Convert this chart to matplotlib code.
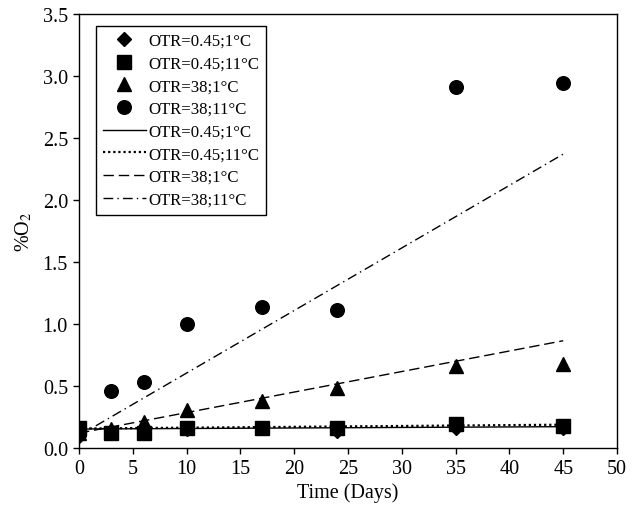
import matplotlib
matplotlib.use("Agg")
import matplotlib.pyplot as plt
from matplotlib.lines import Line2D

plt.rcParams['font.family'] = ['Liberation Serif', 'DejaVu Serif']
plt.rcParams['mathtext.fontset'] = 'stix'

# Data
days = [0, 3, 6, 10, 17, 24, 35, 45]
otr045_1 = [0.10, 0.13, 0.13, 0.15, 0.16, 0.14, 0.16, 0.16]
otr045_11 = [0.16, 0.12, 0.12, 0.16, 0.16, 0.16, 0.19, 0.18]
otr38_1 = [0.12, 0.15, 0.21, 0.31, 0.38, 0.48, 0.66, 0.68]
days_38_11 = [3, 6, 10, 17, 24, 35, 45]
otr38_11 = [0.46, 0.53, 1.00, 1.14, 1.11, 2.91, 2.94]

# Fitted lines (values at x=0 and x=45)
fit_x = [0, 45]
fit_045_1 = [0.153, 0.172]
fit_045_11 = [0.157, 0.188]
fit_38_1 = [0.12, 0.865]
fit_38_11 = [0.10, 2.37]

labels = ['OTR=0.45;1°C', 'OTR=0.45;11°C', 'OTR=38;1°C', 'OTR=38;11°C']

fig = plt.figure(figsize=(6.43, 5.10), dpi=100)
ax = fig.add_axes([79/643, 1-449/510, (617-79)/643, (449-15)/510])

ms = 9.5
dash = (0, (7.5, 3.5))
dashdot = (0, (7, 3, 1, 3))
dotted = (0, (1.0, 1.3))
ax.plot(fit_x, fit_045_1, color='black', lw=1.0, linestyle='-', zorder=2)
ax.plot(fit_x, fit_045_11, color='black', lw=1.6, linestyle=dotted, zorder=2)
ax.plot(fit_x, fit_38_1, color='black', lw=1.0, linestyle=dash, zorder=2)
ax.plot(fit_x, fit_38_11, color='black', lw=1.0, linestyle=dashdot, zorder=2)

ax.plot(days, otr045_1, linestyle='none', marker='D', ms=ms*0.8, color='black', zorder=3)
ax.plot(days, otr045_11, linestyle='none', marker='s', ms=ms, color='black', zorder=3)
ax.plot(days, otr38_1, linestyle='none', marker='^', ms=ms, color='black', zorder=3)
ax.plot(days_38_11, otr38_11, linestyle='none', marker='o', ms=ms+0.3, color='black', zorder=3)

ax.set_xlim(0, 50)
ax.set_ylim(0, 3.5)
ax.set_xticks(range(0, 51, 5))
ax.set_yticks([0, 0.5, 1.0, 1.5, 2.0, 2.5, 3.0, 3.5])
ax.set_yticklabels(['0.0', '0.5', '1.0', '1.5', '2.0', '2.5', '3.0', '3.5'])
ax.tick_params(axis='both', direction='out', length=4, width=1, labelsize=14.5,
               top=False, right=False, pad=4)
for s in ax.spines.values():
    s.set_linewidth(1.0)
ax.set_xlabel('Time (Days)', fontsize=14.5, labelpad=3)
ax.set_ylabel('%O$_2$', fontsize=14.5, labelpad=6)

handles = [
    Line2D([], [], linestyle='none', marker='D', ms=ms*0.8, color='black'),
    Line2D([], [], linestyle='none', marker='s', ms=ms, color='black'),
    Line2D([], [], linestyle='none', marker='^', ms=ms, color='black'),
    Line2D([], [], linestyle='none', marker='o', ms=ms+0.3, color='black'),
    Line2D([], [], color='black', lw=1.0, linestyle='-'),
    Line2D([], [], color='black', lw=1.6, linestyle=dotted),
    Line2D([], [], color='black', lw=1.0, linestyle=dash),
    Line2D([], [], color='black', lw=1.0, linestyle=dashdot),
]
leg = ax.legend(handles, labels + labels, loc='upper left',
                bbox_to_anchor=((96-79)/538, 1-(27-15)/434),
                fontsize=12.1, frameon=True, fancybox=False, edgecolor='black',
                framealpha=1, numpoints=1, handlelength=2.55, handletextpad=0.15,
                borderpad=0.4, labelspacing=0.4, borderaxespad=0)
leg.get_frame().set_linewidth(1.0)

fig.savefig('out.png', dpi=100)
